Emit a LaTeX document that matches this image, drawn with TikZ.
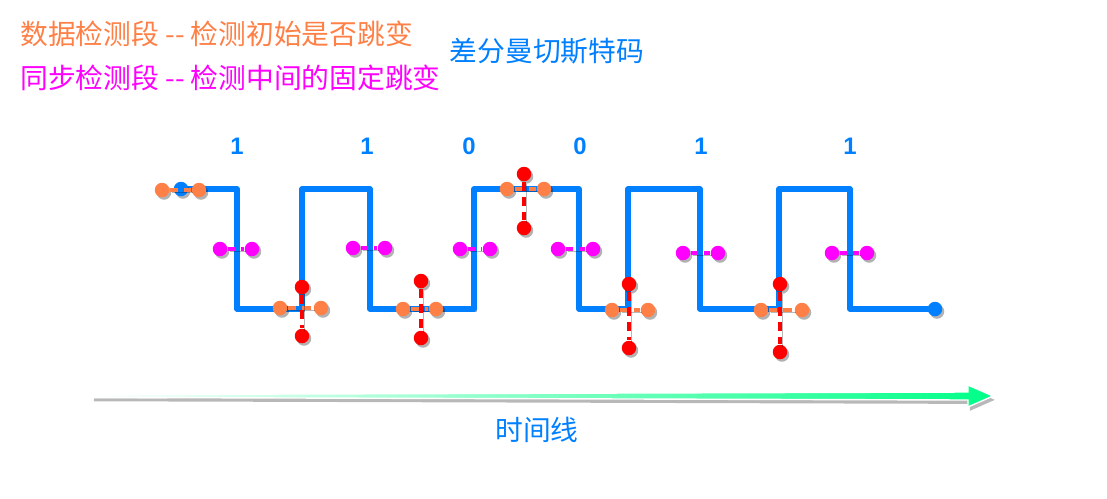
\documentclass[tikz,border=0pt]{standalone}
\usepackage{fontspec}
\newfontfamily\cjk{Noto Sans CJK SC}
\newfontfamily\numfont{Liberation Sans}
\usetikzlibrary{shadows}
\definecolor{waveblue}{RGB}{0,128,255}
\definecolor{dataorange}{RGB}{255,128,70}
\definecolor{syncpink}{RGB}{255,0,255}
\definecolor{edgered}{RGB}{255,0,0}
\definecolor{timegreen}{RGB}{0,255,136}
\tikzset{
  dot/.style={circle,fill=#1,inner sep=0pt,minimum size=0.29cm,
    drop shadow={shadow xshift=0.04cm,shadow yshift=-0.05cm,opacity=.3,fill=black}},
  lineshadow/.style={preaction={draw=black,opacity=.28,
    transform canvas={xshift=1.1pt,yshift=-1.6pt}}},
  wave/.style={draw=waveblue,line width=3pt,line join=round,lineshadow},
  datalink/.style={draw=dataorange,line width=2pt,dash pattern=on 0.17cm off 0.12cm,lineshadow},
  synclink/.style={draw=syncpink,line width=2pt,dash pattern=on 0.15cm off 0.12cm,lineshadow},
  edgelink/.style={draw=edgered,line width=2.2pt,dash pattern=on 0.18cm off 0.12cm,lineshadow},
  cjktext/.style={inner sep=0pt,font=\cjk\fontsize{15.8}{18}\selectfont},
  bitlabel/.style={text=waveblue,inner sep=0pt,font=\numfont\bfseries\fontsize{13.6}{16}\selectfont}
}
\begin{document}
\begin{tikzpicture}[x=0.02cm,y=-0.02cm]
\useasboundingbox (0,0) rectangle (1107,498);

% notes and title
\node[cjktext,anchor=west,text=dataorange] (datanote) at (20,34) {数据检测段 -{}- 检测初始是否跳变};
\node[cjktext,anchor=west,text=syncpink] (syncnote) at (20,78) {同步检测段 -{}- 检测中间的固定跳变};
\node[cjktext,text=waveblue] (title) at (547,51) {差分曼切斯特码};

% bits
\foreach[count=\i] \x/\b in {237/1,367/1,469/0,580/0,701/1,850/1}{
\node[bitlabel] (bit-\i) at (\x,146) {\b};
}

% the signal
\coordinate (wavestart) at (181,189);
\coordinate (waveend) at (935,309);
\draw[wave] (wavestart) -| (237,309) -| (302,189) -| (370,309) -| (474,189) -| (579,309)
  -| (628,189) -| (700,309) -| (779,189) -| (850,309) -- (waveend);
\node[dot=waveblue] (w0) at (wavestart) {};
\node[dot=waveblue] (w1) at (waveend) {};

% sync checks (middle of each bit)
\foreach[count=\i] \xl/\xr/\y in {220/252/249,353/385/248,460/490/249,558/593/249,683/718/253,832/867/253}{
\node[dot=syncpink] (sl-\i) at (\xl,\y) {};
\node[dot=syncpink] (sr-\i) at (\xr,\y) {};
\draw[synclink] (sl-\i) -- (sr-\i);
}

% data checks (start of each bit)
\foreach[count=\i] \xl/\xr/\y in {162/199/190,280/321/308,403/436/309,507/544/189,612/648/310,761/802/310}{
\node[dot=dataorange] (dl-\i) at (\xl,\y) {};
\node[dot=dataorange] (dr-\i) at (\xr,\y) {};
\draw[datalink] (dl-\i) -- (dr-\i);
}

% transitions at bit start
\foreach[count=\i] \x/\yt/\yb in {302/287/336,421/281/338,524/174/228,629/284/348,780/284/352}{
\node[dot=edgered] (ct-\i) at (\x,\yt) {};
\node[dot=edgered] (cb-\i) at (\x,\yb) {};
\draw[edgelink] (ct-\i) -- (cb-\i);
}

% time line
\coordinate (tstart) at (92,396);
\coordinate (tend) at (993,396);
\shadedraw[draw=white,line width=0.8pt,left color=white,right color=timegreen,
  preaction={fill=black,opacity=.28,transform canvas={xshift=1pt,yshift=-2.2pt}}]
  ([yshift=0.8pt]tstart) -- (968,392) -- (968,385) -- (tend) -- (968,407) -- (968,400)
  -- ([yshift=-0.8pt]tstart) -- cycle;
\node[cjktext,text=waveblue] (timelbl) at (537,430) {时间线};
\end{tikzpicture}
\end{document}
